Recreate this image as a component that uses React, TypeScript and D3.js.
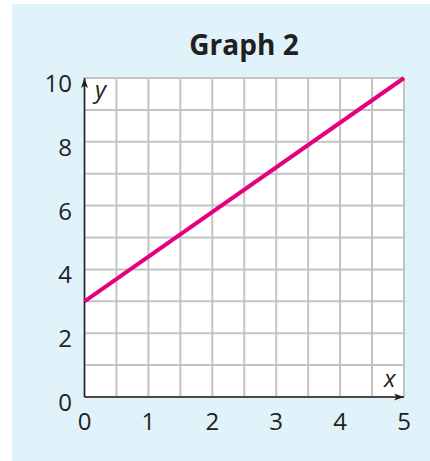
import React from "react";
import * as d3 from "d3";

const title = "Graph 2";
const xTicks = [0, 1, 2, 3, 4, 5];
const yTicks = [0, 2, 4, 6, 8, 10];
const xGrid = [0, 0.5, 1, 1.5, 2, 2.5, 3, 3.5, 4, 4.5, 5];
const yGrid = [0, 1, 2, 3, 4, 5, 6, 7, 8, 9, 10];
const lineX = [0, 5];
const lineY = [3, 10];

const W = 430;
const H = 461;
const FONT = "'Open Sans', 'Noto Sans', sans-serif";

export default function App() {
  const x = d3.scaleLinear().domain([0, 5]).range([84.5, 404]);
  const y = d3.scaleLinear().domain([0, 10]).range([397, 78]);
  const pts: [number, number][] = lineX.map((v, i) => [x(v), y(lineY[i])]);
  const line = d3.line<[number, number]>().x((d) => d[0]).y((d) => d[1]);

  return (
    <svg
      width={W}
      height={H}
      style={{ position: "absolute", left: 0, top: 0, display: "block" }}
    >
      <defs>
        <marker id="arr" viewBox="0 0 10 10" refX="10" refY="5" markerWidth="10" markerHeight="10" markerUnits="userSpaceOnUse" orient="auto">
          <path d="M0,1.5 L10,5 L0,8.5 L2.5,5 Z" fill="#231f20" />
        </marker>
      </defs>
      <rect x={12} y={4} width={W - 12} height={H - 4} fill="#e0f2fa" />
      <text x={244} y={55} textAnchor="middle" fontFamily={FONT} fontWeight={700} fontSize={28} fill="#231f20">
        {title}
      </text>
      <rect x={x(0)} y={y(10)} width={x(5) - x(0)} height={y(0) - y(10)} fill="#ffffff" />
      {xGrid.map((v) => (
        <line key={"gx" + v} x1={x(v)} x2={x(v)} y1={y(0)} y2={y(10)} stroke="#c2c3c6" strokeWidth={2} />
      ))}
      {yGrid.map((v) => (
        <line key={"gy" + v} x1={x(0)} x2={x(5)} y1={y(v)} y2={y(v)} stroke="#c2c3c6" strokeWidth={2} />
      ))}
      <line x1={x(0)} x2={x(5)} y1={y(0)} y2={y(0)} stroke="#231f20" strokeWidth={1.5} markerEnd="url(#arr)" />
      <line x1={x(0)} x2={x(0)} y1={y(0)} y2={y(10)} stroke="#231f20" strokeWidth={1.5} markerEnd="url(#arr)" />
      <path d={line(pts) || ""} fill="none" stroke="#e6007e" strokeWidth={4} strokeLinecap="butt" />
      {xTicks.map((v) => (
        <text key={"tx" + v} x={x(v)} y={430} textAnchor="middle" fontFamily={FONT} fontSize={24} fill="#231f20">
          {v}
        </text>
      ))}
      {yTicks.map((v) => (
        <text key={"ty" + v} x={72} y={y(v) + 14} textAnchor="end" fontFamily={FONT} fontSize={24} fill="#231f20">
          {v}
        </text>
      ))}
      <text x={95} y={98} fontFamily={FONT} fontStyle="italic" fontSize={24} fill="#231f20">y</text>
      <text x={384} y={387} fontFamily={FONT} fontStyle="italic" fontSize={24} fill="#231f20">x</text>
    </svg>
  );
}
